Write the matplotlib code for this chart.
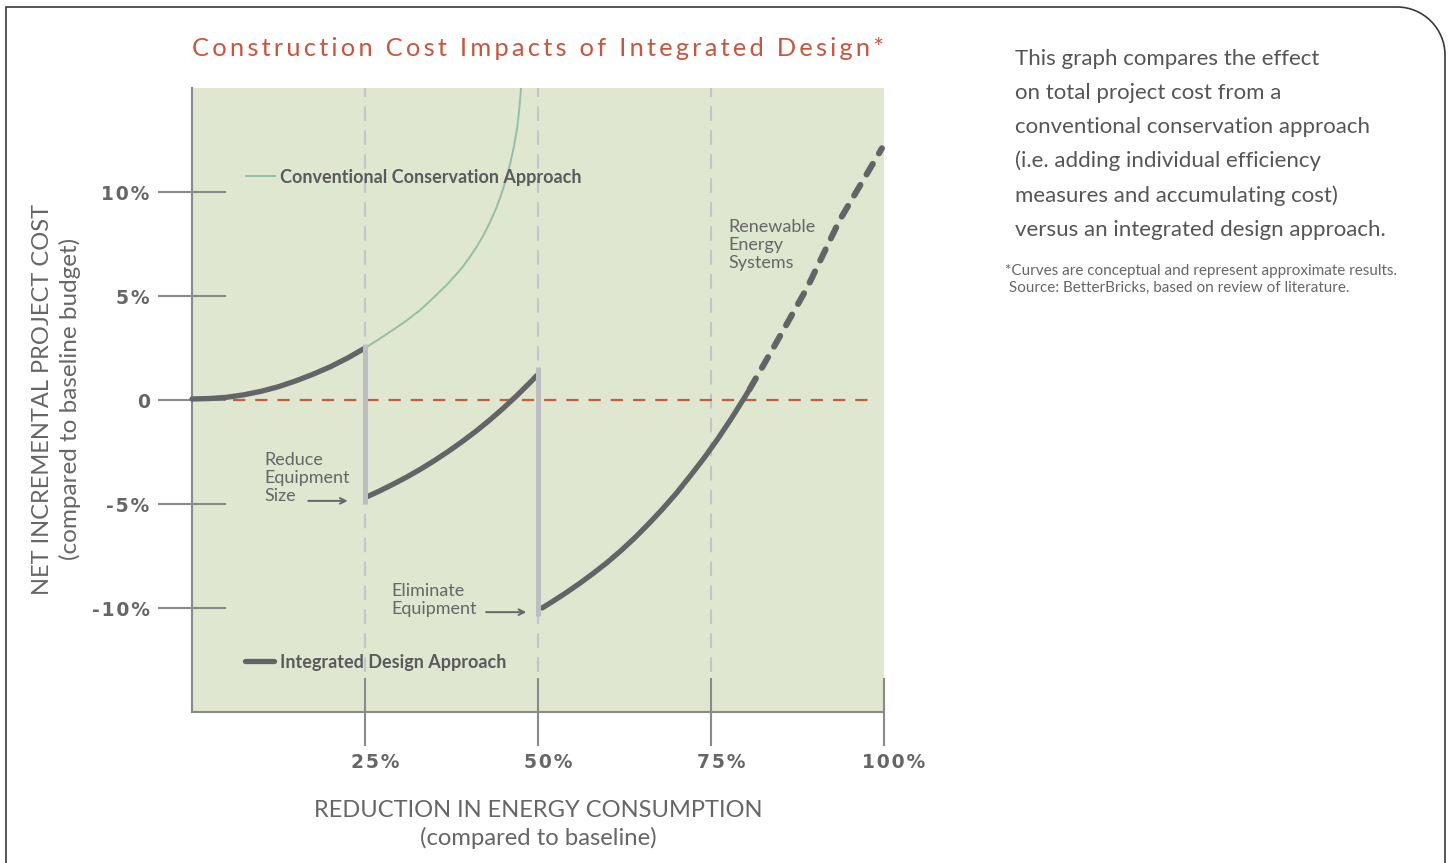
import matplotlib
matplotlib.use("Agg")
import matplotlib.pyplot as plt
from matplotlib.path import Path
from matplotlib.patches import PathPatch
from matplotlib.lines import Line2D
from matplotlib.transforms import ScaledTranslation

# ── data ──────────────────────────────────────────────────────────────────────
conv_x = [0, 2.5, 5, 7.5, 10, 12.5, 15, 17.5, 20, 22.5, 25, 27, 29, 31, 33, 35, 37,
          39, 40, 41, 42, 43, 44, 44.5, 45, 45.5, 46, 46.5, 47, 47.3, 47.5, 47.6]
conv_y = [0, 0.025, 0.1, 0.225, 0.4, 0.625, 0.9, 1.225, 1.6, 2.025, 2.5, 2.92, 3.36,
          3.82, 4.33, 4.95, 5.6, 6.35, 6.8, 7.3, 7.85, 8.5, 9.25, 9.7, 10.2, 10.75,
          11.4, 12.15, 13.1, 14.0, 14.8, 15.3]

seg1_x = [0, 2.5, 5, 7.5, 10, 12.5, 15, 17.5, 20, 22.5, 25]
seg1_y = [0.05, 0.07, 0.13, 0.25, 0.42, 0.64, 0.92, 1.24, 1.6, 2.02, 2.5]

seg2_x = [25.3, 27, 29, 31, 33, 35, 37, 39, 41, 43, 45, 47, 49, 49.8]
seg2_y = [-4.65, -4.39, -4.06, -3.71, -3.33, -2.92, -2.48, -2.01, -1.51, -0.97,
          -0.39, 0.23, 0.89, 1.17]

seg3_x = [50.6, 52, 54, 56, 58, 60, 62, 64, 66, 68, 70, 72, 74, 76, 78, 80, 80.6]
seg3_y = [-10.0, -9.71, -9.28, -8.82, -8.33, -7.81, -7.24, -6.62, -5.95, -5.24,
          -4.48, -3.65, -2.79, -1.86, -0.86, 0.2, 0.53]

renew_x = [80.6, 84, 88.9, 93.6, 99.7]
renew_y = [0.53, 2.5, 5.4, 8.65, 12.1]

# vertical "drops" where equipment is downsized / eliminated
drop_x = [25, 50]
drop_top = [2.7, 1.6]
drop_bot = [-5.0, -10.4]

guide_x = [25, 50, 75]
x_ticks = [25, 50, 75, 100]
x_labels = ["25%", "50%", "75%", "100%"]
y_ticks = [-10, -5, 0, 5, 10]
y_labels = ["-10%", "-5%", "0", "5%", "10%"]

W, H = 1449, 863
FONT = ["Lato", "DejaVu Sans"]
DARK = "#636466"
TXT = "#666666"
AXC = "#8a8a8a"


def spaced(s, n=1):
    return ("\u200a" * n).join(s)


fig = plt.figure(figsize=(W / 100, H / 100), dpi=100)
fig.patch.set_facecolor("white")

# main plotting area: 192..884 px wide, 88..712 px tall
ax = fig.add_axes([192 / W, 1 - 712 / H, 692 / W, 624 / H])
ax.set_facecolor("#e0e7d0")
ax.set_xlim(0, 100)
ax.set_ylim(-15, 15)
for s in ["top", "right"]:
    ax.spines[s].set_visible(False)
for s in ["left", "bottom"]:
    ax.spines[s].set_color(AXC)
    ax.spines[s].set_linewidth(1.5)

# guides
ax.vlines(guide_x, -13.1, 15, colors="#c3c4ca", lw=1.5, linestyles=(0, (7, 4.5)))
ax.axhline(0, xmin=0.059, xmax=0.984, color="#cc5a3e", lw=1.6, dashes=(5.5, 4.5))

# conventional approach
ax.plot(conv_x, conv_y, color="#94bea8", lw=1.4, zorder=3)

# integrated design approach
kw = dict(color=DARK, lw=3.8, solid_capstyle="round", solid_joinstyle="round",
          zorder=4, clip_on=False)
ax.plot(seg1_x, seg1_y, **kw)
ax.plot(seg2_x, seg2_y, **kw)
ax.plot(seg3_x, seg3_y, **kw)
ax.plot(renew_x, renew_y, color=DARK, lw=4.4, dashes=(2.0, 2.0),
        dash_capstyle="round", zorder=4, clip_on=False)

ax.vlines(drop_x, drop_bot, drop_top, colors="#bdbec1", lw=3.6, zorder=5)

# ticks
ax.set_xticks(x_ticks)
ax.set_xticklabels([spaced(t) for t in x_labels])
ax.set_yticks(y_ticks)
ax.set_yticklabels([spaced(t) for t in y_labels])
ax.tick_params(axis="both", direction="inout", length=49, width=1.5, color=AXC,
               labelcolor=TXT, labelsize=13.5)
ax.tick_params(axis="x", pad=5)
ax.tick_params(axis="y", pad=6)
for lbl in ax.get_xticklabels() + ax.get_yticklabels():
    lbl.set_fontweight("bold")
    lbl.set_family(["DejaVu Sans"])
for lbl in ax.get_xticklabels():
    lbl.set_transform(lbl.get_transform() + ScaledTranslation(10 / 100, 0, fig.dpi_scale_trans))

# legends
h1 = Line2D([], [], color="#94bea8", lw=1.4)
leg1 = ax.legend([h1], ["Conventional Conservation Approach"], loc="center left",
                 bbox_to_anchor=(0.078, 0.857), frameon=False, borderpad=0,
                 borderaxespad=0, handlelength=1.6, handletextpad=0.3,
                 prop=dict(family=FONT, weight="bold", size=13))
ax.add_artist(leg1)
h2 = Line2D([], [], color=DARK, lw=3.8, solid_capstyle="round")
leg2 = ax.legend([h2], ["Integrated Design Approach"], loc="center left",
                 bbox_to_anchor=(0.076, 0.080), frameon=False, borderpad=0,
                 borderaxespad=0, handlelength=1.65, handletextpad=0.3,
                 prop=dict(family=FONT, weight="bold", size=13))
for lg in (leg1, leg2):
    for t in lg.get_texts():
        t.set_color("#5a5a5c")

# annotations
ann = dict(color=TXT, fontsize=13, family=FONT, linespacing=1.15, ha="left", va="center")
ax.text(10.4, -3.75, "Reduce\nEquipment\nSize", **ann)
ax.annotate("", xy=(22.9, -4.85), xytext=(16.4, -4.85),
            arrowprops=dict(arrowstyle="->", color=TXT, lw=1.4))
ax.text(28.8, -9.6, "Eliminate\nEquipment", **ann)
ax.annotate("", xy=(48.7, -10.2), xytext=(42.1, -10.2),
            arrowprops=dict(arrowstyle="->", color=TXT, lw=1.4))
ax.text(77.5, 7.45, "Renewable\nEnergy\nSystems", **ann)

# title and axis titles
fig.text(538 / W, 1 - 49 / H, spaced("Construction Cost Impacts of Integrated Design*", 2),
         color="#c8553d", fontsize=18.3, ha="center", va="center", family=FONT)
fig.text(43 / W, 1 - 399 / H, "NET INCREMENTAL PROJECT COST", rotation=90,
         color=TXT, fontsize=17, ha="center", va="center", family=FONT)
fig.text(70 / W, 1 - 399 / H, "(compared to baseline budget)", rotation=90,
         color=TXT, fontsize=17.5, ha="center", va="center", family=FONT)
fig.text(538 / W, 1 - 810 / H, "REDUCTION IN ENERGY CONSUMPTION",
         color=TXT, fontsize=17, ha="center", va="center", family=FONT)
fig.text(538 / W, 1 - 838 / H, "(compared to baseline)",
         color=TXT, fontsize=17.2, ha="center", va="center", family=FONT)

# side note
para = ("This graph compares the effect\n"
        "on total project cost from a\n"
        "conventional conservation approach\n"
        "(i.e. adding individual efficiency\n"
        "measures and accumulating cost)\n"
        "versus an integrated design approach.")
fig.text(1015 / W, 1 - 49 / H, para, color="#555555", fontsize=16, ha="left",
         va="top", family=FONT, linespacing=1.86)
fig.text(1005 / W, 1 - 264 / H,
         "*Curves are conceptual and represent approximate results.\n"
         " Source: BetterBricks, based on review of literature.",
         color=TXT, fontsize=11, ha="left", va="top", family=FONT, linespacing=1.3)

# frame with rounded top-right corner
r = 48
pts = [(6, 880), (6, 7), (1445 - r, 7), (1445 - r + 0.55 * r, 7),
       (1445, 7 + r - 0.55 * r), (1445, 7 + r), (1445, 880)]
codes = [Path.MOVETO, Path.LINETO, Path.LINETO, Path.CURVE4, Path.CURVE4,
         Path.CURVE4, Path.LINETO]
verts = [(x / W, 1 - y / H) for x, y in pts]
fig.add_artist(PathPatch(Path(verts, codes), fill=False, edgecolor="#3a3a3a",
                         lw=1.2, transform=fig.transFigure))

plt.savefig("out.png", dpi=100)
